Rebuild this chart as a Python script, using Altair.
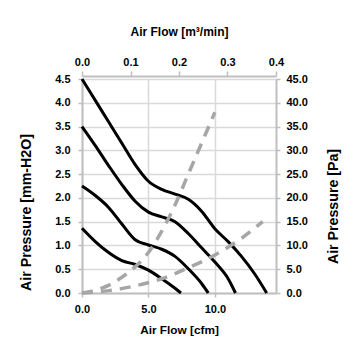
import altair as alt
import pandas as pd

# Fan curves (Air Flow [cfm] vs Air Pressure [mm-H2O])
c1_x = [0, 1, 2, 3, 4, 5, 6, 7, 8, 9, 10, 11, 12, 13, 13.9]
c1_y = [4.5, 4.05, 3.6, 3.15, 2.7, 2.35, 2.18, 2.08, 1.97, 1.72, 1.35, 1.08, 0.77, 0.4, 0]
c2_x = [0, 1, 2, 3, 4, 5, 6, 7, 8, 9, 10, 11, 11.55]
c2_y = [3.5, 3.1, 2.68, 2.28, 1.93, 1.7, 1.6, 1.5, 1.25, 0.95, 0.65, 0.3, 0]
c3_x = [0, 1, 2, 3, 4, 5, 6, 7, 8, 9, 9.5]
c3_y = [2.25, 2.05, 1.8, 1.45, 1.12, 1.01, 0.92, 0.77, 0.51, 0.2, 0]
c4_x = [0, 1, 2, 3, 4, 5, 6, 7, 7.45]
c4_y = [1.36, 1.08, 0.85, 0.68, 0.6, 0.48, 0.3, 0.1, 0]

# System impedance curves (Air Flow [cfm] vs Air Pressure [Pa])
dA_x = [0, 1, 2, 3, 4, 5, 6, 7, 8, 9, 10]
dA_pa = [0, 0.6, 1.6, 3.3, 5.5, 8.5, 13, 18.5, 25, 31.5, 38]
dB_x = [0, 2, 4, 6, 8, 10, 12, 13.6]
dB_pa = [0, 0.5, 1.5, 3.0, 5.3, 8.0, 11.5, 15.0]

# Axis ticks
left_ticks = [0, 0.5, 1.0, 1.5, 2.0, 2.5, 3.0, 3.5, 4.0, 4.5]
right_ticks = [0, 5, 10, 15, 20, 25, 30, 35, 40, 45]
bottom_ticks = [0, 5, 10]
top_ticks = [0, 0.1, 0.2, 0.3, 0.4]

rows = []
for name, xs, ys in [("c1", c1_x, c1_y), ("c2", c2_x, c2_y), ("c3", c3_x, c3_y), ("c4", c4_x, c4_y)]:
    for x, y in zip(xs, ys):
        rows.append({"series": name, "cfm": x, "mmh2o": y})
fan = pd.DataFrame(rows)

rows = []
for name, xs, ys in [("A", dA_x, dA_pa), ("B", dB_x, dB_pa)]:
    for x, y in zip(xs, ys):
        rows.append({"series": name, "cfm": x, "pa": y})
imp = pd.DataFrame(rows)

top_df = pd.DataFrame({"m3": top_ticks, "v": [0] * len(top_ticks)})

FONT = "Liberation Sans"
BASE = dict(
    labelFont=FONT, labelFontSize=11, labelFontWeight="bold", labelColor="#000000",
    titleFont=FONT, titleFontWeight="bold", titleColor="#000000",
    domainColor="#bfbfbf", domainWidth=2, tickColor="#bfbfbf", tickWidth=1.5,
    gridColor="#d9d9d9", gridWidth=1.5, format=".1f", labelFlush=False,
)

W, H = 194, 214
XMAX = 14.6

fan_layer = alt.Chart(fan).mark_line(color="#000000", strokeWidth=3, interpolate="monotone").encode(
    x=alt.X("cfm:Q", scale=alt.Scale(domain=[0, XMAX], nice=False, zero=True),
            axis=alt.Axis(orient="bottom", values=bottom_ticks, grid=True, title="Air Flow [cfm]",
                          tickSize=4, labelPadding=6, titleFontSize=11.8,
                          titleX=W / 2, titleY=36, titleBaseline="middle", **BASE)),
    y=alt.Y("mmh2o:Q", scale=alt.Scale(domain=[0, 4.5], nice=False),
            axis=alt.Axis(orient="left", values=left_ticks, grid=True, title="Air Pressure [mm-H2O]",
                          tickSize=4, labelPadding=8, titleFontSize=14.2,
                          titleX=-56, titleY=133, titleBaseline="middle", **BASE)),
    detail="series:N",
)

imp_layer = alt.Chart(imp).mark_line(color="#a6a6a6", strokeWidth=3.5, strokeDash=[11, 8],
                                     interpolate="monotone").encode(
    x=alt.X("cfm:Q", scale=alt.Scale(domain=[0, XMAX], nice=False, zero=True), axis=None),
    y=alt.Y("pa:Q", scale=alt.Scale(domain=[0, 45], nice=False),
            axis=alt.Axis(orient="right", values=right_ticks, grid=False, title="Air Pressure [Pa]",
                          tickSize=4, labelPadding=6, titleFontSize=14.2, titleAngle=-90,
                          titleX=57, titleY=127, titleBaseline="middle", **BASE)),
    detail="series:N",
)

top_layer = alt.Chart(top_df).mark_point(opacity=0).encode(
    x=alt.X("m3:Q", scale=alt.Scale(domain=[0, 0.4], nice=False),
            axis=alt.Axis(orient="top", values=top_ticks, grid=False, title="Air Flow [m³/min]",
                          offset=3, tickSize=5, labelPadding=4, titleFontSize=12,
                          titleX=W / 2, titleY=-45, titleBaseline="middle", **BASE)),
    y=alt.Y("v:Q", scale=alt.Scale(domain=[0, 1]), axis=None),
)

chart = alt.layer(fan_layer, imp_layer, top_layer).resolve_scale(
    x="independent", y="independent"
).properties(
    width=W, height=H,
    autosize=alt.AutoSizeParams(type="none"),
    padding={"left": 82, "top": 79, "right": 79, "bottom": 62},
    background="#ffffff",
).configure_view(strokeWidth=0)

chart.save("out.html", embed_options={"renderer": "svg", "actions": False})
